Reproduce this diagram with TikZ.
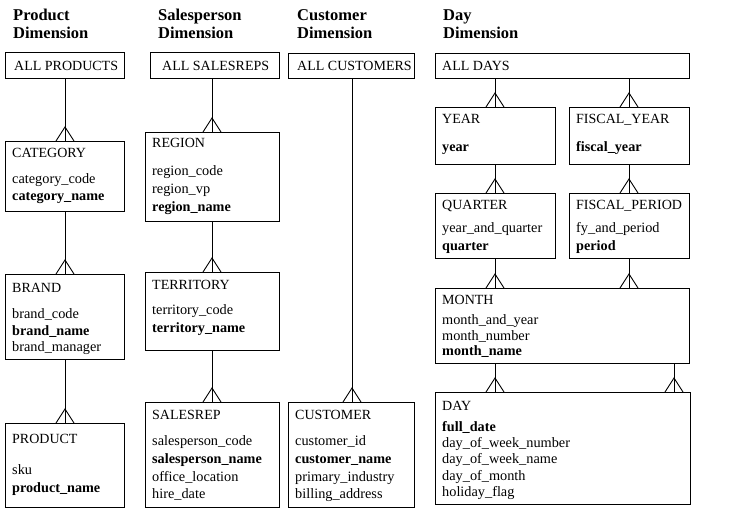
\documentclass[tikz,border=0pt]{standalone}
\usepackage{fontspec}
\setmainfont{Liberation Serif}
\begin{document}
\begin{tikzpicture}[x=1pt,y=-1pt,
  box/.style={draw,line width=0.9pt,inner sep=0pt,anchor=north west},
  txt/.style={anchor=base west,inner sep=0pt,font=\fontsize{14}{16}\selectfont},
  ltxt/.style={anchor=base west,inner sep=0pt,font=\fontsize{14.3}{16}\selectfont},
  btxt/.style={anchor=base west,inner sep=0pt,font=\fontsize{14.2}{16}\selectfont\bfseries},
  ttl/.style={anchor=base west,inner sep=0pt,font=\fontsize{16.5}{18}\selectfont\bfseries},
  link/.style={line width=0.9pt}]
\useasboundingbox (0,0) rectangle (730,510);
\newcommand\mkbox[5]{\node[box,minimum width={#4-#2},minimum height={#5-#3}] (#1) at (#2,#3) {};}
\newcommand\crowlink[3]{%
  \draw[link] (#3,0 |- #1.south) -- (#3,0 |- #2.north) coordinate (tmp);
  \draw[link] ([xshift=-9pt]tmp) -- ([yshift=14pt]tmp) -- ([xshift=9pt]tmp);}

% titles
\node[ttl] (t1a) at (13,21) {Product};
\node[ttl] (t1b) at (13,39) {Dimension};
\node[ttl] (t2a) at (158,21) {Salesperson};
\node[ttl] (t2b) at (158,39) {Dimension};
\node[ttl] (t3a) at (297,21) {Customer};
\node[ttl] (t3b) at (297,39) {Dimension};
\node[ttl] (t4a) at (443,21) {Day};
\node[ttl] (t4b) at (443,39) {Dimension};

% boxes
\mkbox{allprod}{5}{52}{124}{78}
\mkbox{allsales}{150}{52}{279}{78}
\mkbox{allcust}{288}{53}{414}{78}
\mkbox{alldays}{435}{53}{689}{78}
\mkbox{cat}{5}{141}{124}{211}
\mkbox{region}{145}{132}{279}{221}
\mkbox{brand}{5}{274}{124}{359}
\mkbox{prod}{5}{423}{124}{507}
\mkbox{terr}{145}{272}{279}{350}
\mkbox{srep}{145}{402}{279}{507}
\mkbox{cust}{288}{402}{414}{507}
\mkbox{year}{435}{107}{555}{164}
\mkbox{fyear}{569}{107}{689}{164}
\mkbox{qtr}{435}{193}{555}{258}
\mkbox{fper}{569}{193}{689}{258}
\mkbox{month}{435}{288}{689}{363}
\mkbox{day}{435}{392}{690}{504}

% connectors
\crowlink{allprod}{cat}{65}
\crowlink{cat}{brand}{65}
\crowlink{brand}{prod}{65}
\crowlink{allsales}{region}{212}
\crowlink{region}{terr}{212}
\crowlink{terr}{srep}{212}
\crowlink{allcust}{cust}{352}
\crowlink{alldays}{year}{495}
\crowlink{alldays}{fyear}{629}
\crowlink{year}{qtr}{495}
\crowlink{fyear}{fper}{629}
\crowlink{qtr}{month}{495}
\crowlink{fper}{month}{629}
\crowlink{month}{day}{495}
\crowlink{month}{day}{674}

% texts
\node[txt] (l1) at (14,71) {ALL PRODUCTS};
\node[txt] (l2) at (162,71) {ALL SALESREPS};
\node[txt] (l3) at (297,71) {ALL CUSTOMERS};
\node[txt] (l4) at (442,71) {ALL DAYS};

\node[txt] (c1) at (12,158) {CATEGORY};
\node[ltxt] (c2) at (12,184) {category\_code};
\node[btxt] (c3) at (12,201) {category\_name};

\node[txt] (b1) at (12,292) {BRAND};
\node[ltxt] (b2) at (12,319) {brand\_code};
\node[btxt] (b3) at (12,335) {brand\_name};
\node[ltxt] (b4) at (12,351) {brand\_manager};

\node[txt] (p1) at (12,443) {PRODUCT};
\node[ltxt] (p2) at (12,474) {sku};
\node[btxt] (p3) at (12,492) {product\_name};

\node[txt] (r1) at (152,148) {REGION};
\node[ltxt] (r2) at (152,176) {region\_code};
\node[ltxt] (r3) at (152,194) {region\_vp};
\node[btxt] (r4) at (152,212) {region\_name};

\node[txt] (te1) at (152,290) {TERRITORY};
\node[ltxt] (te2) at (152,314) {territory\_code};
\node[btxt] (te3) at (152,332) {territory\_name};

\node[txt] (s1) at (152,419) {SALESREP};
\node[ltxt] (s2) at (152,445) {salesperson\_code};
\node[btxt] (s3) at (152,463) {salesperson\_name};
\node[ltxt] (s4) at (152,481) {office\_location};
\node[ltxt] (s5) at (152,498) {hire\_date};

\node[txt] (cu1) at (295,419) {CUSTOMER};
\node[ltxt] (cu2) at (295,445) {customer\_id};
\node[btxt] (cu3) at (295,463) {customer\_name};
\node[ltxt] (cu4) at (295,481) {primary\_industry};
\node[ltxt] (cu5) at (295,498) {billing\_address};

\node[txt] (y1) at (442,124) {YEAR};
\node[btxt] (y2) at (442,152) {year};
\node[txt] (fy1) at (576,124) {FISCAL\_YEAR};
\node[btxt] (fy2) at (576,152) {fiscal\_year};

\node[txt] (q1) at (442,210) {QUARTER};
\node[ltxt] (q2) at (442,233) {year\_and\_quarter};
\node[btxt] (q3) at (442,251) {quarter};
\node[txt] (fp1) at (576,210) {FISCAL\_PERIOD};
\node[ltxt] (fp2) at (576,233) {fy\_and\_period};
\node[btxt] (fp3) at (576,251) {period};

\node[txt] (m1) at (442,305) {MONTH};
\node[ltxt] (m2) at (442,324) {month\_and\_year};
\node[ltxt] (m3) at (442,340) {month\_number};
\node[btxt] (m4) at (442,355) {month\_name};

\node[txt] (d1) at (442,410) {DAY};
\node[btxt] (d2) at (442,431) {full\_date};
\node[ltxt] (d3) at (442,447) {day\_of\_week\_number};
\node[ltxt] (d4) at (442,463) {day\_of\_week\_name};
\node[ltxt] (d5) at (442,480) {day\_of\_month};
\node[ltxt] (d6) at (442,496) {holiday\_flag};
\end{tikzpicture}
\end{document}
